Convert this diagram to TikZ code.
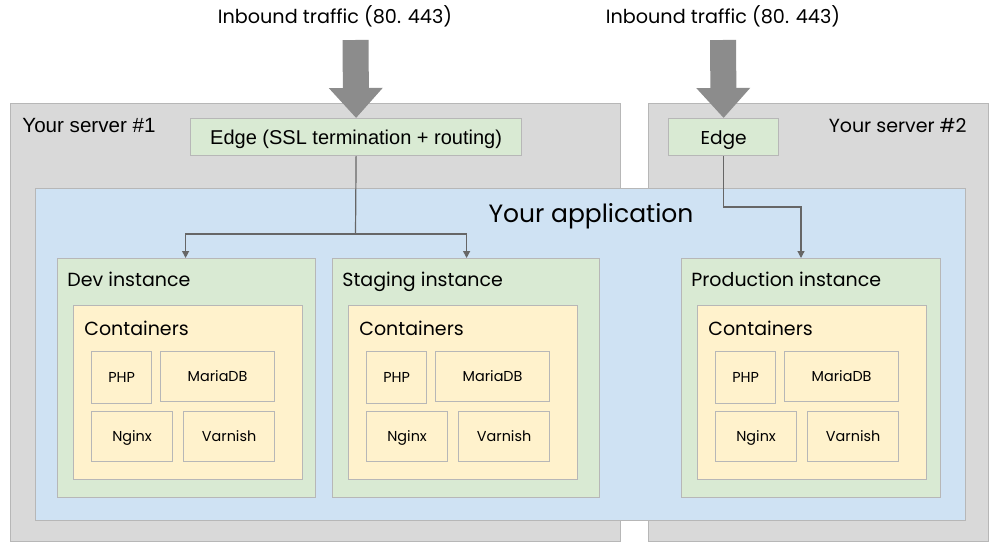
\documentclass[tikz,border=0pt]{standalone}
\usepackage{fontspec}
\newfontfamily\montfont{Poppins}
\newfontfamily\arialfont{Liberation Sans}
\usetikzlibrary{arrows.meta}
\definecolor{servergray}{HTML}{D9D9D9}
\definecolor{appblue}{HTML}{CFE2F3}
\definecolor{instgreen}{HTML}{D9EAD3}
\definecolor{contyellow}{HTML}{FFF2CC}
\definecolor{edgeline}{HTML}{B7B7B7}
\definecolor{arrowgray}{HTML}{8C8C8C}
\definecolor{wiregray}{HTML}{666666}

\begin{document}
\begin{tikzpicture}[x=0.5pt,y=-0.5pt,
    box/.style={draw=edgeline, line width=0.6pt, anchor=north west, inner sep=0pt},
    sz/.style 2 args={minimum width=#1*0.5pt, minimum height=#2*0.5pt},
    server/.style={box, fill=servergray},
    app/.style={box, fill=appblue},
    inst/.style={box, fill=instgreen},
    cont/.style={box, fill=contyellow},
    edgebox/.style={box, fill=instgreen, text height=7pt, text depth=0pt},
    svc/.style={box, fill=contyellow, text height=5pt, text depth=0pt,
      font=\montfont\fontsize{7.2}{9}\selectfont},
    lbl/.style={anchor=base west, inner sep=0pt, font=\montfont\fontsize{9.5}{12}\selectfont},
    bigarrow/.style={draw=arrowgray, line width=13pt, -{Triangle[length=15pt,width=26pt]}},
    wire/.style={draw=wiregray, line width=0.6pt, -{Triangle[length=3.5pt,width=3.5pt]}}]
  \useasboundingbox[fill=white] (0,0) rectangle (1000,551);
  % servers
  \node[server, sz={610}{438}] (srv1) at (10,103) {};
  \node[server, sz={340}{438}] (srv2) at (648,103) {};
  \node[lbl, font=\arialfont\fontsize{10.3}{12}\selectfont] (srv1-title) at (22,133) {Your server \#1};
  \node[lbl, anchor=base east] (srv2-title) at (967,133) {Your server \#2};
  % application
  \node[app, sz={930}{332}] (app) at (35,188) {};
  \node[lbl, anchor=base, font=\montfont\fontsize{12.5}{15}\selectfont] (app-title) at (591,222) {Your application};
  % edges
  \node[edgebox, sz={331}{37}, font=\arialfont\fontsize{10}{12}\selectfont] (edge1) at (190,118) {Edge (SSL termination + routing)};
  \node[edgebox, sz={110}{37}, font=\montfont\fontsize{9.3}{12}\selectfont] (edge2) at (668,118) {Edge};
  % inbound traffic
  \node[lbl, anchor=base, font=\montfont\fontsize{9.6}{12}\selectfont] (in1) at (335,24) {Inbound traffic (80. 443)};
  \node[lbl, anchor=base, font=\montfont\fontsize{9.6}{12}\selectfont] (in2) at (723,24) {Inbound traffic (80. 443)};
  \coordinate (src1) at (355.5,40);
  \coordinate (src2) at (723,40);
  \draw[bigarrow] (src1) -- (edge1.north);
  \draw[bigarrow] (src2) -- (edge2.north);
  % instances
  \foreach \n/\x/\w/\t in {dev/57/258/Dev instance, stg/332/267/Staging instance, prd/681/259/Production instance}{
    \node[inst, sz={\w}{239}] (\n-inst) at (\x,258) {};
    \node[lbl] (\n-title) at (\x+10,286) {\t};
    \node[cont, sz={229}{174}] (\n-cont) at (\x+16,305) {};
    \node[lbl] (\n-ctitle) at (\x+27,335) {Containers};
    \node[svc, sz={60}{52}] (\n-php) at (\x+34,351) {PHP};
    \node[svc, sz={114}{50}] (\n-db) at (\x+103,351) {MariaDB};
    \node[svc, sz={81}{50}] (\n-nginx) at (\x+34,411) {Nginx};
    \node[svc, sz={91}{50}] (\n-varnish) at (\x+126,411) {Varnish};
  }
  % routing
  \coordinate (split1) at (355.5,234);
  \coordinate (turn2) at (801,207);
  \draw[wire, -] (edge1.south) -- (split1);
  \draw[wire] (split1) -| ([xshift=-0.5pt]dev-inst.north);
  \draw[wire] (split1) -| ([xshift=0.25pt]stg-inst.north);
  \draw[wire] (edge2.south) |- (turn2) -- (turn2 |- prd-inst.north);
\end{tikzpicture}
\end{document}
